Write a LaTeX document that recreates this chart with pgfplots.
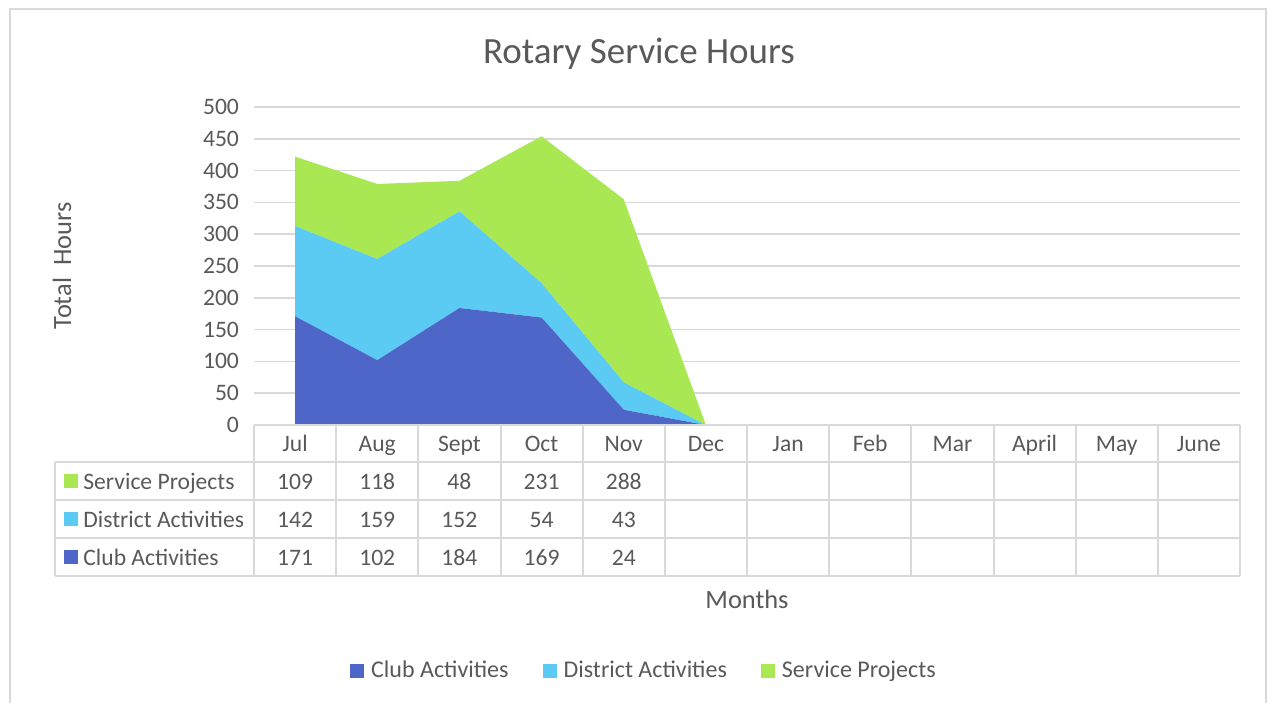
\documentclass[border=0pt]{standalone}
\usepackage{pgfplots}
\pgfplotsset{compat=1.18}
\usepackage{fontspec}
\setmainfont{Carlito}
\definecolor{clubc}{HTML}{4E66C8}
\definecolor{distc}{HTML}{5BCBF3}
\definecolor{servc}{HTML}{A9E853}
\definecolor{txt}{HTML}{595959}
\definecolor{gridc}{HTML}{D9D9D9}
\begin{document}
\begin{tikzpicture}
% frame
\begin{scope}[x=0.5pt,y=-0.5pt]
\path[use as bounding box] (0,0) rectangle (1268,702);
\draw[gridc, line width=1pt] (10,9) rectangle (1266,712);
\node[txt, font=\fontsize{18.5}{20}\selectfont] at (639,54) {Rotary Service Hours};
\node[txt, font=\fontsize{13.2}{15}\selectfont, rotate=90] at (62,266) {Total\ \ Hours};
\node[txt, font=\fontsize{13.2}{15}\selectfont] at (747,599) {Months};
\end{scope}
\begin{axis}[
  at={(127pt,-212.5pt)}, anchor=south west,
  scale only axis, width=493pt, height=159pt,
  xmin=-0.5, xmax=11.5, ymin=0, ymax=500,
  ytick={0,50,...,500}, xtick=\empty,
  ymajorgrids, grid style={gridc, line width=0.8pt},
  axis line style={draw=none}, major tick length=0pt,
  yticklabel style={txt, font=\fontsize{11.8}{13}\selectfont, xshift=-4pt},
  /pgf/number format/assume math mode=true,
  stack plots=y, clip=false,
  legend style={at={(0.3965,-0.773)}, anchor=center, draw=none, fill=none,
    legend columns=3, font=\fontsize{12}{14}\selectfont, text=txt,
    /tikz/every odd column/.append style={column sep=1.5pt},
    /tikz/every even column/.append style={column sep=15pt}},
  legend image code/.code={\fill[#1] (0pt,-3.5pt) rectangle (7pt,3.5pt);},
]
\addplot[fill=clubc, draw=none] coordinates {(0,171) (1,102) (2,184) (3,169) (4,24) (5,0)} \closedcycle;
\addlegendentry{Club Activities}
\addplot[fill=distc, draw=none] coordinates {(0,142) (1,159) (2,152) (3,54) (4,43) (5,0)} \closedcycle;
\addlegendentry{District Activities}
\addplot[fill=servc, draw=none] coordinates {(0,109) (1,118) (2,48) (3,231) (4,288) (5,0)} \closedcycle;
\addlegendentry{Service Projects}
\end{axis}
% data table
\begin{scope}[x=0.5pt,y=-0.5pt]
\def\cw{82.1667}
\draw[gridc, line width=1pt] (254,425) -- (1240,425);
\foreach \yy in {462,500,538,576} \draw[gridc, line width=1pt] (55,\yy) -- (1240,\yy);
\foreach \k in {0,...,12} \draw[gridc, line width=1pt] ({254+\k*\cw},425) -- ({254+\k*\cw},576);
\draw[gridc, line width=1pt] (55,462) -- (55,576);
\tikzset{cell/.style={txt, font=\fontsize{11.8}{13}\selectfont, text height=8.2pt, text depth=2.3pt}}
\foreach \m [count=\i from 0] in {Jul,Aug,Sept,Oct,Nov,Dec,Jan,Feb,Mar,April,May,June}
  \node[cell] at ({254+(\i+0.5)*\cw},446) {\m};
\foreach \v [count=\i from 0] in {109,118,48,231,288}
  \node[cell] at ({254+(\i+0.5)*\cw},484) {\v};
\foreach \v [count=\i from 0] in {142,159,152,54,43}
  \node[cell] at ({254+(\i+0.5)*\cw},522) {\v};
\foreach \v [count=\i from 0] in {171,102,184,169,24}
  \node[cell] at ({254+(\i+0.5)*\cw},560) {\v};
\fill[servc] (64,474) rectangle (78,488);
\fill[distc] (64,512) rectangle (78,526);
\fill[clubc] (64,550) rectangle (78,564);
\node[cell, anchor=west, inner sep=0pt] at (83,484) {Service Projects};
\node[cell, anchor=west, inner sep=0pt] at (83,522) {District Activities};
\node[cell, anchor=west, inner sep=0pt] at (83,560) {Club Activities};
\end{scope}
\end{tikzpicture}
\end{document}
